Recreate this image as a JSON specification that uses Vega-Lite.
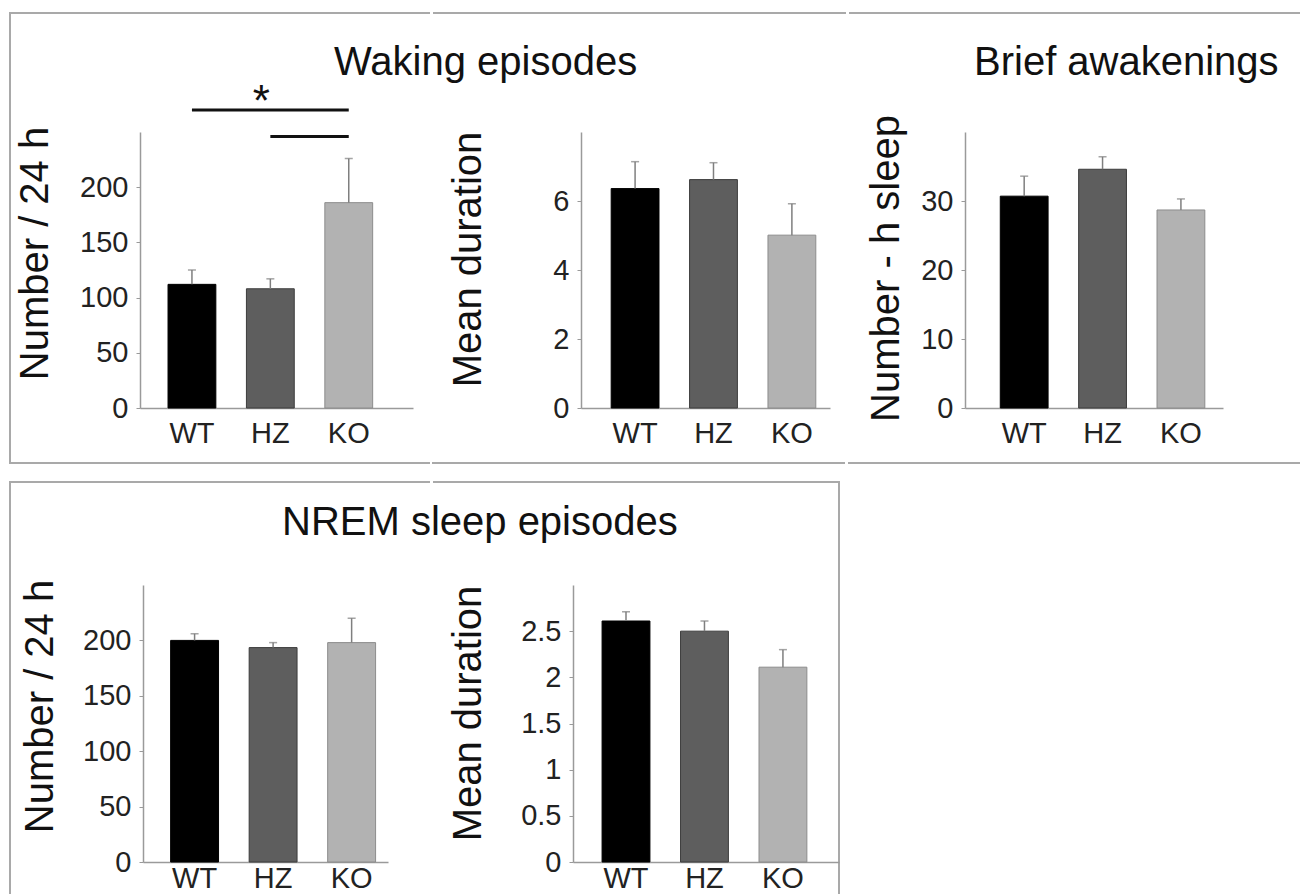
{
  "$schema": "https://vega.github.io/schema/vega-lite/v6.json",
  "padding": {"left": 9, "top": 12, "right": 0, "bottom": 0},
  "background": "white",
  "datasets": {
    "wakeNum": [
      {"g": "WT", "v": 112, "e": 125},
      {"g": "HZ", "v": 108, "e": 117},
      {"g": "KO", "v": 186, "e": 226}
    ],
    "wakeDur": [
      {"g": "WT", "v": 6.36, "e": 7.14},
      {"g": "HZ", "v": 6.62, "e": 7.11},
      {"g": "KO", "v": 5.01, "e": 5.92}
    ],
    "brief": [
      {"g": "WT", "v": 30.7, "e": 33.6},
      {"g": "HZ", "v": 34.6, "e": 36.4},
      {"g": "KO", "v": 28.7, "e": 30.3}
    ],
    "nremNum": [
      {"g": "WT", "v": 200, "e": 206},
      {"g": "HZ", "v": 193.5, "e": 198},
      {"g": "KO", "v": 198, "e": 220}
    ],
    "nremDur": [
      {"g": "WT", "v": 2.61, "e": 2.71},
      {"g": "HZ", "v": 2.5, "e": 2.61},
      {"g": "KO", "v": 2.11, "e": 2.3}
    ],
    "sig": [
      {"g1": "WT", "g2": "KO", "y": 270},
      {"g1": "HZ", "g2": "KO", "y": 246}
    ],
    "star": [{"g": "HZ", "y": 264.5, "t": "*"}]
  },
  "spacing": 17,
  "vconcat": [
    {
      "spacing": 0,
      "hconcat": [
        {
          "title": {"text": "Waking episodes", "dx": 325, "offset": -71},
          "spacing": 0,
          "hconcat": [
            {
              "width": 420, "height": 450,
              "view": {"stroke": "#a9a9a9", "strokeWidth": 2, "strokeDash": [420, 450, 870, 10]},
              "layer": [
                {
                  "data": {"name": "wakeNum"},
                  "mark": {"type": "bar", "strokeWidth": 1},
                  "encoding": {
                    "x": {"field": "g", "type": "nominal", "sort": ["WT", "HZ", "KO"], "title": null,
                          "scale": {"domain": ["WT", "HZ", "KO"], "range": [130, 403], "paddingInner": 0.39, "paddingOuter": 0.436, "align": 0.41},
                          "axis": {"offset": -55}},
                    "y": {"field": "v", "type": "quantitative", "scale": {"domain": [0, 250], "range": [395, 119], "nice": false},
                          "axis": {"title": "Number  / 24 h", "values": [0, 50, 100, 150, 200], "format": "d", "offset": -130, "titleY": 240, "titlePadding": 24}},
                    "color": {"field": "g", "type": "nominal", "scale": {"domain": ["WT", "HZ", "KO"], "range": ["#000000", "#5e5e5e", "#b2b2b2"]}, "legend": null},
                    "stroke": {"field": "g", "type": "nominal", "scale": {"domain": ["WT", "HZ", "KO"], "range": ["#000000", "#3c3c3c", "#8c8c8c"]}, "legend": null}
                  }
                },
                {
                  "data": {"name": "wakeNum"},
                  "mark": {"type": "rule", "color": "#7f7f7f", "strokeWidth": 1.5},
                  "encoding": {
                    "x": {"field": "g", "type": "nominal", "sort": ["WT", "HZ", "KO"]},
                    "y": {"field": "v", "type": "quantitative"},
                    "y2": {"field": "e"}
                  }
                },
                {
                  "data": {"name": "wakeNum"},
                  "mark": {"type": "tick", "color": "#7f7f7f", "thickness": 1.5, "size": 8},
                  "encoding": {
                    "x": {"field": "g", "type": "nominal", "sort": ["WT", "HZ", "KO"]},
                    "y": {"field": "e", "type": "quantitative"}
                  }
                },
                {
                  "data": {"name": "sig"},
                  "mark": {"type": "rule", "color": "#111111", "strokeWidth": 3},
                  "encoding": {
                    "x": {"field": "g1", "type": "nominal", "sort": ["WT", "HZ", "KO"]},
                    "x2": {"field": "g2"},
                    "y": {"field": "y", "type": "quantitative"}
                  }
                },
                {
                  "data": {"name": "star"},
                  "mark": {"type": "text", "fontSize": 44, "baseline": "alphabetic", "dx": -9, "color": "#111111"},
                  "encoding": {
                    "x": {"field": "g", "type": "nominal", "sort": ["WT", "HZ", "KO"]},
                    "y": {"field": "y", "type": "quantitative"},
                    "text": {"field": "t"}
                  }
                }
              ]
            },
            {
              "width": 414, "height": 450,
              "view": {"stroke": "#a9a9a9", "strokeWidth": 2, "strokeDash": [413, 451], "strokeDashOffset": 863},
              "data": {"name": "wakeDur"},
              "layer": [
                {
                  "mark": {"type": "bar", "strokeWidth": 1},
                  "encoding": {
                    "x": {"field": "g", "type": "nominal", "sort": ["WT", "HZ", "KO"], "title": null,
                          "scale": {"domain": ["WT", "HZ", "KO"], "range": [149, 398], "paddingInner": 0.39, "paddingOuter": 0.283, "align": 0.68},
                          "axis": {"offset": -55}},
                    "y": {"field": "v", "type": "quantitative", "scale": {"domain": [0, 8], "range": [395, 119], "nice": false},
                          "axis": {"title": "Mean duration", "values": [0, 2, 4, 6], "format": "d", "offset": -149, "titleY": 246, "titlePadding": 64}},
                    "color": {"field": "g", "type": "nominal", "scale": {"domain": ["WT", "HZ", "KO"], "range": ["#000000", "#5e5e5e", "#b2b2b2"]}, "legend": null},
                    "stroke": {"field": "g", "type": "nominal", "scale": {"domain": ["WT", "HZ", "KO"], "range": ["#000000", "#3c3c3c", "#8c8c8c"]}, "legend": null}
                  }
                },
                {
                  "mark": {"type": "rule", "color": "#7f7f7f", "strokeWidth": 1.5},
                  "encoding": {
                    "x": {"field": "g", "type": "nominal", "sort": ["WT", "HZ", "KO"]},
                    "y": {"field": "v", "type": "quantitative"},
                    "y2": {"field": "e"}
                  }
                },
                {
                  "mark": {"type": "tick", "color": "#7f7f7f", "thickness": 1.5, "size": 8},
                  "encoding": {
                    "x": {"field": "g", "type": "nominal", "sort": ["WT", "HZ", "KO"]},
                    "y": {"field": "e", "type": "quantitative"}
                  }
                }
              ]
            }
          ]
        },
        {
          "title": {"text": "Brief awakenings", "dx": 127, "offset": -71},
          "hconcat": [
            {
              "width": 458, "height": 450,
              "view": {"stroke": "#a9a9a9", "strokeWidth": 2, "strokeDash": [457, 451], "strokeDashOffset": 907},
              "data": {"name": "brief"},
              "layer": [
                {
                  "mark": {"type": "bar", "strokeWidth": 1},
                  "encoding": {
                    "x": {"field": "g", "type": "nominal", "sort": ["WT", "HZ", "KO"], "title": null,
                          "scale": {"domain": ["WT", "HZ", "KO"], "range": [117, 375], "paddingInner": 0.39, "paddingOuter": 0.341, "align": 0.66},
                          "axis": {"offset": -55}},
                    "y": {"field": "v", "type": "quantitative", "scale": {"domain": [0, 40], "range": [395, 119], "nice": false},
                          "axis": {"title": "Number - h sleep", "values": [0, 10, 20, 30], "format": "d", "offset": -117, "titleY": 255, "titlePadding": 14}},
                    "color": {"field": "g", "type": "nominal", "scale": {"domain": ["WT", "HZ", "KO"], "range": ["#000000", "#5e5e5e", "#b2b2b2"]}, "legend": null},
                    "stroke": {"field": "g", "type": "nominal", "scale": {"domain": ["WT", "HZ", "KO"], "range": ["#000000", "#3c3c3c", "#8c8c8c"]}, "legend": null}
                  }
                },
                {
                  "mark": {"type": "rule", "color": "#7f7f7f", "strokeWidth": 1.5},
                  "encoding": {
                    "x": {"field": "g", "type": "nominal", "sort": ["WT", "HZ", "KO"]},
                    "y": {"field": "v", "type": "quantitative"},
                    "y2": {"field": "e"}
                  }
                },
                {
                  "mark": {"type": "tick", "color": "#7f7f7f", "thickness": 1.5, "size": 8},
                  "encoding": {
                    "x": {"field": "g", "type": "nominal", "sort": ["WT", "HZ", "KO"]},
                    "y": {"field": "e", "type": "quantitative"}
                  }
                }
              ]
            }
          ]
        }
      ]
    },
    {
      "title": {"text": "NREM sleep episodes", "dx": 273, "offset": -62},
      "spacing": 0,
      "hconcat": [
        {
          "width": 420, "height": 430,
          "view": {"stroke": "#a9a9a9", "strokeWidth": 2, "strokeDash": [420, 430, 850, 10]},
          "data": {"name": "nremNum"},
          "layer": [
            {
              "mark": {"type": "bar", "strokeWidth": 1},
              "encoding": {
                "x": {"field": "g", "type": "nominal", "sort": ["WT", "HZ", "KO"], "title": null,
                      "scale": {"domain": ["WT", "HZ", "KO"], "range": [133, 378], "paddingInner": 0.39, "paddingOuter": 0.255, "align": 0.69},
                      "axis": {"offset": -50, "labelPadding": 2}},
                "y": {"field": "v", "type": "quantitative", "scale": {"domain": [0, 250], "range": [380, 103], "nice": false},
                      "axis": {"title": "Number  / 24 h", "values": [0, 50, 100, 150, 200], "format": "d", "offset": -133, "titleY": 224, "titlePadding": 22}},
                "color": {"field": "g", "type": "nominal", "scale": {"domain": ["WT", "HZ", "KO"], "range": ["#000000", "#5e5e5e", "#b2b2b2"]}, "legend": null},
                "stroke": {"field": "g", "type": "nominal", "scale": {"domain": ["WT", "HZ", "KO"], "range": ["#000000", "#3c3c3c", "#8c8c8c"]}, "legend": null}
              }
            },
            {
              "mark": {"type": "rule", "color": "#7f7f7f", "strokeWidth": 1.5},
              "encoding": {
                "x": {"field": "g", "type": "nominal", "sort": ["WT", "HZ", "KO"]},
                "y": {"field": "v", "type": "quantitative"},
                "y2": {"field": "e"}
              }
            },
            {
              "mark": {"type": "tick", "color": "#7f7f7f", "thickness": 1.5, "size": 8},
              "encoding": {
                "x": {"field": "g", "type": "nominal", "sort": ["WT", "HZ", "KO"]},
                "y": {"field": "e", "type": "quantitative"}
              }
            }
          ]
        },
        {
          "width": 407, "height": 430,
          "view": {"stroke": "#a9a9a9", "strokeWidth": 2, "strokeDash": [1243, 431], "strokeDashOffset": 1673},
          "data": {"name": "nremDur"},
          "layer": [
            {
              "mark": {"type": "bar", "strokeWidth": 1},
              "encoding": {
                "x": {"field": "g", "type": "nominal", "sort": ["WT", "HZ", "KO"], "title": null,
                      "scale": {"domain": ["WT", "HZ", "KO"], "range": [141, 407], "paddingInner": 0.39, "paddingOuter": 0.39, "align": 0.475},
                      "axis": {"offset": -50, "labelPadding": 2}},
                "y": {"field": "v", "type": "quantitative", "scale": {"domain": [0, 3], "range": [380, 103], "nice": false},
                      "axis": {"title": "Mean duration", "values": [0, 0.5, 1, 1.5, 2, 2.5], "labelExpr": "datum.value + ''", "offset": -141, "titleY": 231, "titlePadding": 32}},
                "color": {"field": "g", "type": "nominal", "scale": {"domain": ["WT", "HZ", "KO"], "range": ["#000000", "#5e5e5e", "#b2b2b2"]}, "legend": null},
                "stroke": {"field": "g", "type": "nominal", "scale": {"domain": ["WT", "HZ", "KO"], "range": ["#000000", "#3c3c3c", "#8c8c8c"]}, "legend": null}
              }
            },
            {
              "mark": {"type": "rule", "color": "#7f7f7f", "strokeWidth": 1.5},
              "encoding": {
                "x": {"field": "g", "type": "nominal", "sort": ["WT", "HZ", "KO"]},
                "y": {"field": "v", "type": "quantitative"},
                "y2": {"field": "e"}
              }
            },
            {
              "mark": {"type": "tick", "color": "#7f7f7f", "thickness": 1.5, "size": 8},
              "encoding": {
                "x": {"field": "g", "type": "nominal", "sort": ["WT", "HZ", "KO"]},
                "y": {"field": "e", "type": "quantitative"}
              }
            }
          ]
        }
      ]
    }
  ],
  "config": {
    "view": {"stroke": null},
    "font": "Liberation Sans",
    "axis": {
      "domainColor": "#9a9a9a", "domainWidth": 1.5, "tickColor": "#9a9a9a", "grid": false,
      "labelFont": "Liberation Sans", "labelFontSize": 29, "labelColor": "#222222",
      "titleFont": "Liberation Sans", "titleFontSize": 40, "titleFontWeight": "normal", "titleColor": "#111111"
    },
    "axisX": {"ticks": false, "tickSize": 0, "labelAngle": 0, "labelPadding": 11},
    "axisY": {"tickSize": 4, "labelPadding": 8, "labelFlush": false},
    "title": {"font": "Liberation Sans", "fontSize": 40, "fontWeight": "normal", "color": "#111111"}
  }
}
